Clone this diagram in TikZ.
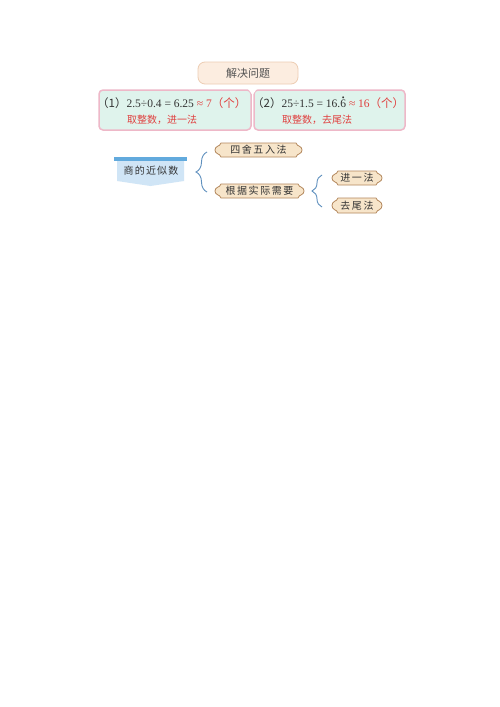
\documentclass[tikz,border=0pt]{standalone}
\usepackage{fontspec}
\setmainfont{Liberation Serif}
\newfontfamily\cjk{Noto Sans CJK SC}
\newfontfamily\cjksp[LetterSpace=16]{Noto Sans CJK SC}
\newfontfamily\cjkmid[LetterSpace=12]{Noto Sans CJK SC}
\usetikzlibrary{decorations.pathreplacing}
\definecolor{tealfill}{HTML}{DFF3EC}
\definecolor{pinkline}{HTML}{EEB8C8}
\definecolor{redtxt}{HTML}{E0403F}
\definecolor{tanfill}{HTML}{F7E5CA}
\definecolor{tanline}{HTML}{B3875C}
\definecolor{titlefill}{HTML}{FCEDE0}
\definecolor{titleline}{HTML}{EDCDB3}
\definecolor{bracecol}{HTML}{5F90BE}
\definecolor{barcol}{HTML}{62AADD}
\definecolor{bannerfill}{HTML}{D0E5F6}
\definecolor{txt}{HTML}{333333}
\tikzset{
  scrollshape/.style={fill=tanfill,draw=tanline,line width=0.8pt},
  scrolltext/.style={inner sep=0pt,text=txt,font=\cjksp\fontsize{10}{10}\selectfont},
  tealbox/.style={fill=tealfill,draw=pinkline,line width=1.5pt,rounded corners=4pt},
  lineone/.style={inner sep=0pt,anchor=west,text=txt,font=\fontsize{11.5}{11.5}\selectfont},
  linetwo/.style={inner sep=0pt,anchor=west,text=redtxt,font=\cjk\fontsize{10}{10}\selectfont},
  bracestyle/.style={draw=bracecol,line width=0.9pt,decorate,decoration={brace,amplitude=11pt,aspect=0.5}},
}
\newcommand\scrollbox[6]{%
  \path[scrollshape] ({#2+6},#3) -- ({#4-6},#3)
    .. controls ({#4-5},{#3+2}) and ({#4-4},{#3+3}) .. ({#4-3},{#3+3})
    .. controls ({#4-1},{#3+4}) and (#4,{(#3+#5)/2-2}) .. (#4,{(#3+#5)/2})
    .. controls (#4,{(#3+#5)/2+2}) and ({#4-1},{#5-4}) .. ({#4-3},{#5-3})
    .. controls ({#4-4},{#5-3}) and ({#4-5},{#5-2}) .. ({#4-6},#5)
    -- ({#2+6},#5)
    .. controls ({#2+5},{#5-2}) and ({#2+4},{#5-3}) .. ({#2+3},{#5-3})
    .. controls ({#2+1},{#5-4}) and (#2,{(#3+#5)/2+2}) .. (#2,{(#3+#5)/2})
    .. controls (#2,{(#3+#5)/2-2}) and ({#2+1},{#3+4}) .. ({#2+3},{#3+3})
    .. controls ({#2+4},{#3+3}) and ({#2+5},{#3+2}) .. ({#2+6},#3)
    -- cycle;
  \node[scrolltext] (#1) at ({(#2+#4)/2},{(#3+#5)/2}) {#6};
}
\begin{document}
\begin{tikzpicture}[x=1pt,y=-1pt]
\path[use as bounding box,fill=white] (0,0) rectangle (500,707);

% title
\draw[fill=titlefill,draw=titleline,line width=0.8pt,rounded corners=7pt] (198,62) rectangle (298,84);
\node[inner sep=0pt,text=txt!85,font=\cjk\fontsize{11}{11}\selectfont] (title) at (248,73) {解决问题};

% teal boxes
\draw[tealbox] (99,90) rectangle (251,130);
\draw[tealbox] (254,90) rectangle (405,130);
\fill[white] (248,88.5) -- (257,88.5) -- (252.5,95) -- cycle;

\node[lineone] (l1a) at (97,103) {{\cjk （1）}2.5÷0.4 = 6.25 \textcolor{redtxt}{≈ 7{\cjk （个）}}};
\node[linetwo] (l1b) at (127,120) {取整数，进一法};
\node[lineone] (l2a) at (252,103) {{\cjk （2）}25÷1.5 = 16.\ooalign{6\cr\hidewidth\raisebox{0.62em}{\fontsize{8}{8}\selectfont •}\hidewidth\cr} \textcolor{redtxt}{≈ 16{\cjk （个）}}};
\node[linetwo] (l2b) at (282,120) {取整数，去尾法};

% banner
\fill[bannerfill] (117,160) -- (184,160) -- (184,181) -- (150.5,186) -- (117,181) -- cycle;
\fill[barcol] (114,157) rectangle (187,160.5);
\node[inner sep=0pt,text=txt,font=\cjkmid\fontsize{10}{10}\selectfont] (banner) at (151,171) {商的近似数};

% scroll boxes
\scrollbox{sa}{215}{143}{302}{157}{四舍五入法}
\scrollbox{sb}{215}{184}{304}{198}{根据实际需要}
\scrollbox{sc}{332}{171}{382}{185}{进一法}
\scrollbox{sd}{332}{198}{382}{213}{去尾法}

% braces
\coordinate (b1top) at (207,152);
\coordinate (b1bot) at (207,192);
\coordinate (b2top) at (322,175);
\coordinate (b2bot) at (322,207);
\draw[bracestyle] (b1bot) -- (b1top);
\draw[bracestyle,decoration={brace,amplitude=10pt}] (b2bot) -- (b2top);
\end{tikzpicture}
\end{document}
